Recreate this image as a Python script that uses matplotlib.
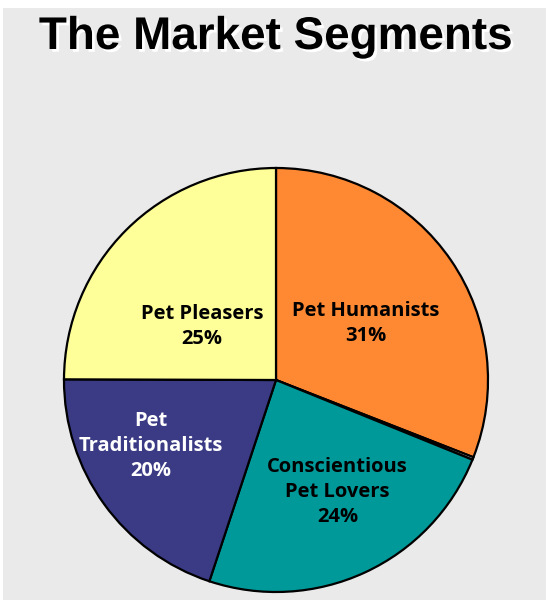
import matplotlib
matplotlib.use("Agg")
import matplotlib.pyplot as plt
import matplotlib.patheffects as pe
from matplotlib.patches import Rectangle

# Segment data (clockwise from 12 o'clock)
segments = ["Pet Humanists", "Other", "Conscientious Pet Lovers",
            "Pet Traditionalists", "Pet Pleasers"]
shares = [31, 0.2, 24, 20, 25]
colors = ["#FF8833", "#EEEEEE", "#009999", "#3A3A85", "#FFFF99"]

# Label text for each segment (None = unlabeled)
label_lines = ["Pet Humanists", None, "Conscientious\nPet Lovers",
               "Pet\nTraditionalists", "Pet Pleasers"]
label_pos = [(0.425, 0.265), None, (0.29, -0.53), (-0.59, -0.31), (-0.35, 0.252)]
label_colors = ["black", None, "black", "white", "black"]

W, H = 546, 600
fig = plt.figure(figsize=(W / 100, H / 100), dpi=100)
fig.patch.set_facecolor("white")
fig.add_artist(Rectangle((3 / W, 0), 1 - 3 / W, 1 - 8 / H,
                         transform=fig.transFigure, facecolor="#EAEAEA",
                         edgecolor="none", zorder=0))

cx, cy, r = 276, 380, 212
ax = fig.add_axes([(cx - r) / W, (H - cy - r) / H, 2 * r / W, 2 * r / H])
ax.set_facecolor("none")
ax.pie(shares, colors=colors, startangle=90, counterclock=False,
       wedgeprops=dict(edgecolor="black", linewidth=1.6), radius=1.0)
ax.set_xlim(-1, 1)
ax.set_ylim(-1, 1)
ax.set_aspect("equal")
ax.axis("off")

total = sum(shares)
for name, val, pos, col in zip(label_lines, shares, label_pos, label_colors):
    if name is None:
        continue
    pct = round(val / total * 100)
    ax.text(pos[0], pos[1], f"{name}\n{pct}%", ha="center", va="center",
            color=col, fontsize=14.5, fontweight="bold",
            family=["Open Sans", "DejaVu Sans"], linespacing=1.33)

fig.text(276 / W, 1 - 37 / H, "The Market Segments", ha="center", va="center",
         fontsize=33, fontweight="bold", family=["Liberation Sans", "DejaVu Sans"],
         color="black",
         path_effects=[pe.withSimplePatchShadow(offset=(2, -2), shadow_rgbFace="white",
                                                alpha=1.0)])

fig.savefig("out.png", dpi=100, facecolor=fig.get_facecolor())
